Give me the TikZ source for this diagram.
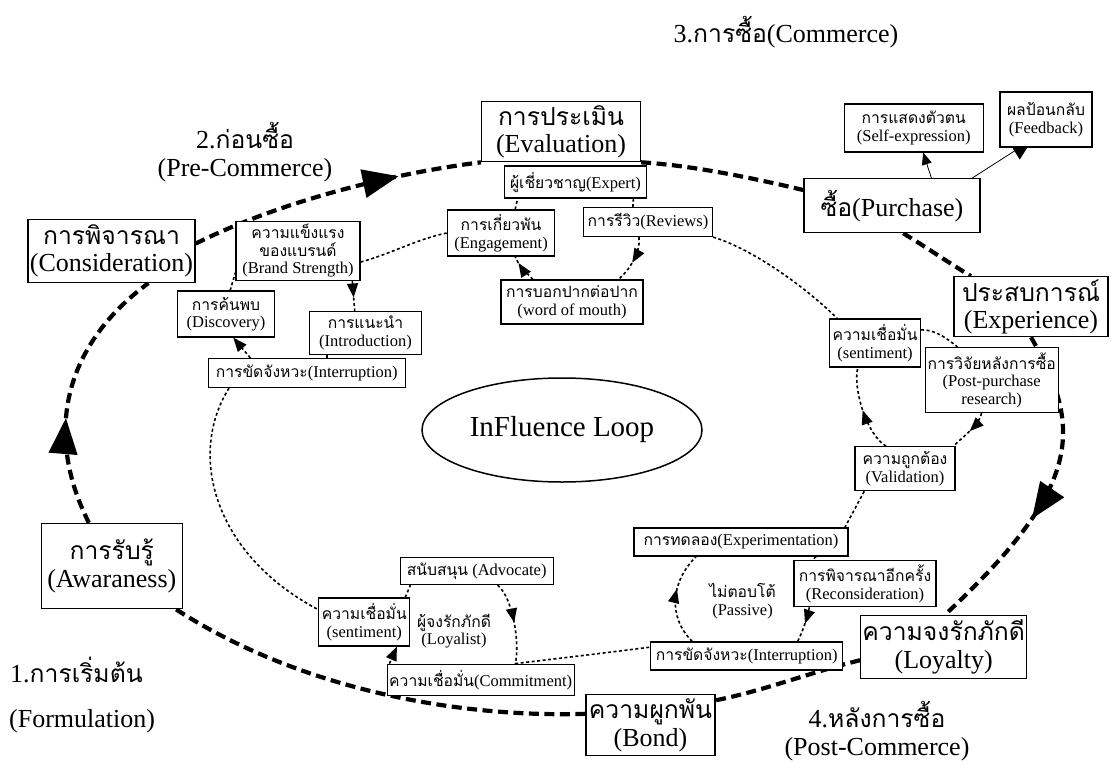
\documentclass[tikz,border=0pt]{standalone}
\usepackage{fontspec}
\setmainfont{Liberation Serif}
\newfontfamily\thaifont[Script=Thai,Scale=0.95]{Loma}
\newcommand\tha[1]{{\thaifont #1}}
\newcommand\fbig{\fontsize{26}{27.5}\selectfont}
\newcommand\fsmall{\fontsize{16.5}{17.5}\selectfont}
\usetikzlibrary{arrows.meta,shapes.geometric,decorations.markings,backgrounds}
\tikzset{
  nbox/.style={draw, fill=white, line width=1.2pt, inner sep=1pt, align=center},
  bign/.style={nbox, font=\fbig},
  smalln/.style={nbox, font=\fsmall},
  sz/.style 2 args={minimum width=#1, minimum height=#2},
  label big/.style={align=center, font=\fbig, inner sep=0pt},
  label small/.style={align=center, font=\fsmall, inner sep=0pt},
  thickdash/.style={line width=4.2pt, dash pattern=on 10pt off 5.5pt},
  thindot/.style={line width=1.6pt, dash pattern=on 3pt off 2.5pt},
  midbig/.style={postaction={decorate}, decoration={markings, mark=at position #1 with {\arrow{Triangle[length=36pt,width=28pt]}}}},
  midsmall/.style={postaction={decorate}, decoration={markings, mark=at position #1 with {\arrow{Triangle[length=14pt,width=11pt]}}}},
  sarrow/.style={-{Triangle[length=14pt,width=11pt]}},
}
\begin{document}
\begin{tikzpicture}[x=1pt,y=-1pt]
\useasboundingbox (0,0) rectangle (1111,763);

% ---- big stage nodes
\node[bign, sz={159pt}{60pt}] (eval) at (561,131.7) {\tha{การประเมิน}\\(Evaluation)};
\node[bign, sz={167pt}{63pt}] (consid) at (111.5,251) {\tha{การพิจารณา}\\(Consideration)};
\node[bign, sz={176pt}{54pt}] (pur) at (892,205.7) {\tha{ซื้อ}(Purchase)};
\node[bign, sz={154pt}{60pt}] (exper) at (1031,306.7) {\tha{ประสบการณ์}\\(Experience)};
\node[bign, sz={141pt}{85pt}] (aware) at (111.8,566) {\tha{การรับรู้}\\(Awaraness)};
\node[bign, sz={129pt}{61pt}] (bond) at (650.5,725.3) {\tha{ความผูกพัน}\\(Bond)};
\node[bign, sz={166pt}{63pt}] (loyal) at (943.7,647) {\tha{ความจงรักภักดี}\\(Loyalty)};

% ---- phase labels
\node[label big] (pre) at (245,152) {2.\tha{ก่อนซื้อ}\\(Pre-Commerce)};
\node[label big] (comm) at (786,32) {3.\tha{การซื้อ}(Commerce)};
\node[label big] (post) at (877,731) {4.\tha{หลังการซื้อ}\\(Post-Commerce)};
\node[label big, anchor=west] (form1) at (10,670) {1.\tha{การเริ่มต้น}};
\node[label big, anchor=west] (form2) at (9,721) {(Formulation)};

% ---- centre
\node[ellipse, draw, line width=1.5pt, minimum width=280pt, minimum height=104pt,
      font=\fontsize{29}{30}\selectfont] (loop) at (562,430) {InFluence Loop};

% ---- small nodes
\node[smalln, sz={142pt}{32pt}] (expert) at (575.5,182) {\tha{ผู้เชี่ยวชาญ}(Expert)};
\node[smalln, sz={107pt}{46pt}] (engage) at (501,233) {\tha{การเกี่ยวพัน}\\(Engagement)};
\node[smalln, sz={129pt}{29pt}] (review) at (648,222) {\tha{การรีวิว}(Reviews)};
\node[smalln, sz={142pt}{44pt}] (wom) at (572,302) {\tha{การบอกปากต่อปาก}\\(word of mouth)};
\node[smalln, sz={124pt}{59pt}] (brand) at (298,251) {\tha{ความแข็งแรง}\\\tha{ของแบรนด์}\\(Brand Strength)};
\node[smalln, sz={97pt}{46pt}] (disc) at (226,314) {\tha{การค้นพบ}\\(Discovery)};
\node[smalln, sz={112pt}{43pt}] (intro) at (365.5,333) {\tha{การแนะนำ}\\(Introduction)};
\node[smalln, sz={197pt}{29pt}] (intr1) at (306.7,373) {\tha{การขัดจังหวะ}(Interruption)};
\node[smalln, sz={139pt}{48pt}] (self) at (913.7,128) {\tha{การแสดงตัวตน}\\(Self-expression)};
\node[smalln, sz={92pt}{55pt}] (fb) at (1046,119.5) {\tha{ผลป้อนกลับ}\\(Feedback)};
\node[smalln, sz={91pt}{48pt}] (sentR) at (875,343) {\tha{ความเชื่อมั่น}\\(sentiment)};
\node[smalln, sz={133pt}{65pt}] (ppr) at (991.7,380) {\tha{การวิจัยหลังการซื้อ}\\(Post-purchase\\research)};
\node[smalln, sz={100pt}{44pt}] (valid) at (905,468.7) {\tha{ความถูกต้อง}\\(Validation)};
\node[smalln, sz={214pt}{28pt}] (experim) at (741,542) {\tha{การทดลอง}(Experimentation)};
\node[smalln, sz={142pt}{46pt}] (recon) at (865,583.7) {\tha{การพิจารณาอีกครั้ง}\\(Reconsideration)};
\node[label small] (passive) at (742.5,601) {\tha{ไม่ตอบโต้}\\(Passive)};
\node[smalln, sz={192pt}{28pt}] (intr2) at (746.7,656) {\tha{การขัดจังหวะ}(Interruption)};
\node[smalln, sz={153pt}{27pt}] (advoc) at (476.7,571) {\tha{สนับสนุน} (Advocate)};
\node[smalln, sz={91pt}{48pt}] (sentL) at (364.3,622) {\tha{ความเชื่อมั่น}\\(sentiment)};
\node[label small] (loyalist) at (454,631) {\tha{ผู้จงรักภักดี}\\(Loyalist)};
\node[smalln, sz={187pt}{31pt}] (commit) at (480.7,679.7) {\tha{ความเชื่อมั่น}(Commitment)};

\begin{scope}[on background layer]
\fill[white] (0,0) rectangle (1111,763);

% ---- outer thick loop
\draw[thickdash, midbig=0.40] (aware.118) .. controls +(-50,-100) and +(-75,55) .. (consid.-41);
\draw[thickdash, midbig=0.72] (consid.5) .. controls +(80,-40) and +(-96,12) .. (eval.south west);
\draw[thickdash] (eval.south east) .. controls +(50,3) and +(-50,-12) .. (pur.170);
\draw[thickdash] (pur.-68) .. controls +(25,15) and +(-25,-15) .. (exper.153);
\draw[thickdash, midbig=0.60] (exper.south) .. controls +(54,93) and +(135,-126) .. (loyal.88);
\draw[thickdash] (loyal.189) .. controls +(-50,12) and +(50,-10) .. (bond.21);
\draw[thickdash] (bond.170) .. controls +(-126,4) and +(125,81) .. (aware.-34);

% ---- purchase outputs
\draw[line width=0.8pt, -{Triangle[length=12pt,width=10pt]}] (pur.35) -- (self.-69);
\draw[line width=0.8pt] (pur.19) -- (fb.-133);
\fill (fb.-133) ++(-7.5pt,0pt) -- ++(15pt,0pt) -- ++(-7.5pt,-12pt) -- cycle;

% ---- inner dotted loop
\draw[thindot] (intr1.-169) .. controls +(-42,67) and +(-104,-55) .. (sentL.165);
\draw[thindot, sarrow] (intr1.165) -- (disc.-73);
\draw[thindot] (disc.80) -- (brand.199);
\draw[thindot, midsmall=0.55] (brand.-29) -- (intro.116);
\draw[thindot] (intro.-150) -- (intro.-150 |- intr1.north);
\draw[thindot] (brand.-10) .. controls +(30,-8) and +(-30,6) .. (engage.west);
\draw[thindot] (engage.59) -- (expert.-164);
\draw[thindot] (expert.-16) -- (review.135);
\draw[thindot, midsmall=0.55] (review.-121) .. controls +(2,14) and +(12,-10) .. (wom.26);
\draw[thindot, midsmall=0.75] (wom.150) .. controls +(-8,-8) and +(3,8) .. (engage.-59);
\draw[thindot] (review.south east) .. controls +(40,12) and +(-30,-30) .. (sentR.147);
\draw[thindot] (sentR.16) .. controls +(15,0) and +(-10,-8) .. (ppr.136);
\draw[thindot, midsmall=0.5] (ppr.-107) .. controls +(-2,12) and +(10,-10) .. (valid.25);
\draw[thindot, midsmall=0.5] (valid.130) .. controls +(-20,-12) and +(-5,20) .. (sentR.-125);
\draw[thindot] (valid.-151) -- (experim.8);
\draw[thindot] (experim.-11) -- (recon.156);
\draw[thindot, midsmall=0.47] (recon.-157) .. controls +(-2,10) and +(6,-12) .. (intr2.16);
\draw[thindot, midsmall=0.6] (intr2.165) .. controls +(-25,-25) and +(-25,25) .. (experim.-162);
\draw[thindot] (commit.25) .. controls +(50,-6) and +(-40,6) .. (intr2.165);
\draw[thindot, sarrow] (commit.170) -- (sentL.-37);
\draw[thindot] (sentL.31) -- (advoc.-168);
\draw[thindot, midsmall=0.5] (advoc.-34) .. controls +(15,12) and +(5,-20) .. (commit.25);
\end{scope}
\end{tikzpicture}
\end{document}
